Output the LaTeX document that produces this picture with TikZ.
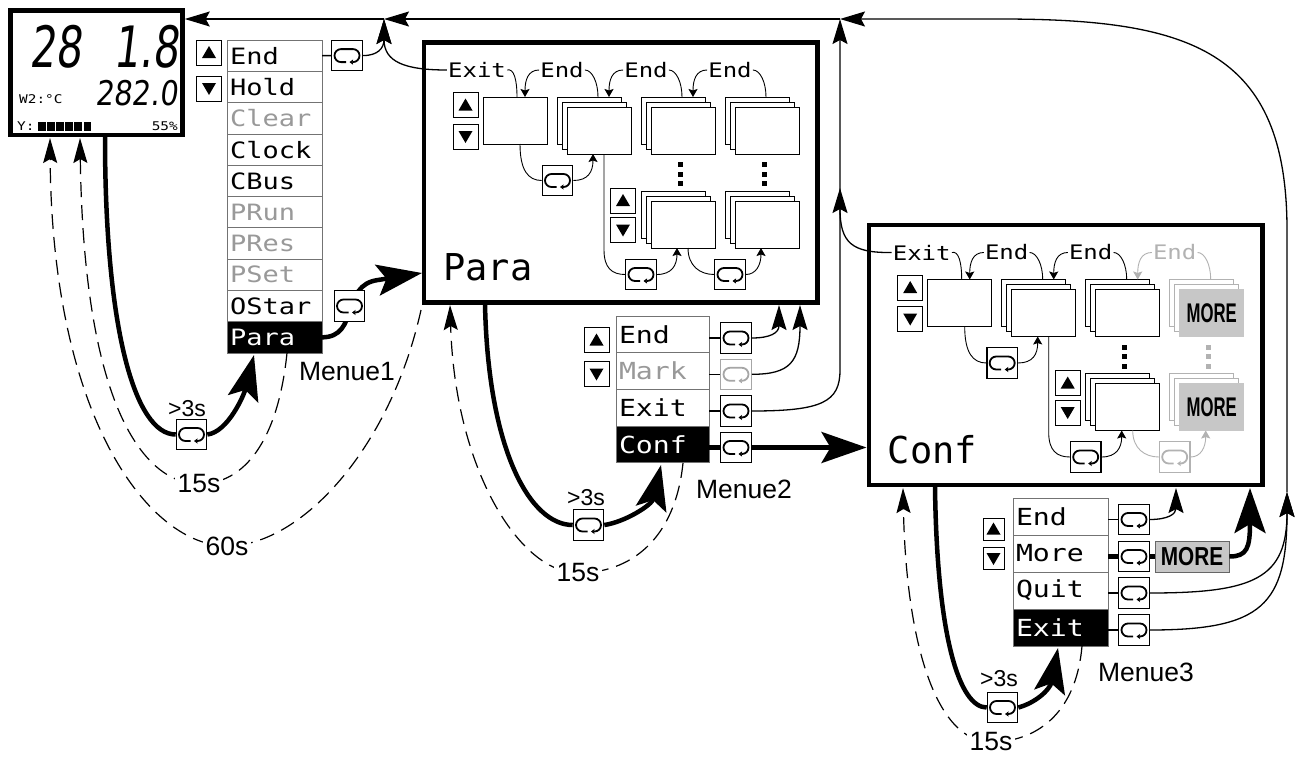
\documentclass[tikz,border=0pt]{standalone}
\usepackage{fontspec}
\setmainfont{Liberation Sans}
\usetikzlibrary{arrows.meta}
\newfontfamily\lcdf[FakeStretch=1.2]{DejaVu Sans Mono}
\newfontfamily\lcdn{DejaVu Sans Mono}
\newfontfamily\segf[FakeSlant=0.12,FakeStretch=0.72]{DejaVu Sans}
\newfontfamily\segg[FakeSlant=0.12,FakeStretch=0.85]{DejaVu Sans}
\newfontfamily\moreA[FakeStretch=0.62]{Liberation Sans}
\newfontfamily\moreB[FakeStretch=0.8]{Liberation Sans}

\newcommand\stk[6]{%
 \node[scr,#4] (#1b) at (#2-10,#3-10) {};
 \node[scr,#4] (#1m) at (#2-5,#3-5) {};
 \node[scr,#5] (#1) at (#2,#3) {#6};}

\newcommand\innerlay[7]{%
\begin{scope}[shift={(#1,#2)}]
 \node[inl] (#3exit) at (477,70) {Exit};
 \node[inl] (#3endA) at (562,70) {End};
 \node[inl] (#3endB) at (646,70) {End};
 \node[inl,text=#5] (#3endC) at (730,70) {End};
 \node[upbtn] (#3up) at (465.5,105) {};
 \node[dnbtn] (#3dn) at (465.5,136.5) {};
 \node[scr] (#3s1) at (483,97) {};
 \stk{#3sB}{567}{107}{}{}{}
 \stk{#3sC}{651}{107}{}{}{}
 \stk{#3sCr}{651}{201}{}{}{}
 \stk{#3sD}{735}{107}{draw=#5}{#6}{#7}
 \stk{#3sDr}{735}{201}{draw=#5}{#6}{#7}
 \node[upbtn] (#3upB) at (623,200.5) {};
 \node[dnbtn] (#3dnB) at (623,230) {};
 \foreach \yy in {162,171.5,181} {\fill (677.5,\yy) rectangle ++(5,5); \fill[#5] (761.5,\yy) rectangle ++(5,5);}
 \node[loopbox] (#3ia) at (557.5,180.5) {};
 \node[loopbox] (#3ib) at (641,274.5) {};
 \node[loopbox=#5] (#3ic) at (730,274.5) {};
 \node[ttl] (#3title) at (443,267) {#4};
 \draw[inline] (#3exit.east) .. controls (514,68) and (517,80) .. (517,97);
 \draw[inarrow] (#3endA.west) .. controls (528,70) and (525,80) .. (525,97);
 \draw[inline] (#3endA.east) .. controls (592,70) and (598,82) .. (598,97);
 \draw[inarrow] (#3endB.west) .. controls (612,70) and (609,80) .. (609,97);
 \draw[inline] (#3endB.east) .. controls (676,70) and (682,82) .. (682,97);
 \draw[inarrow,#5] (#3endC.west) .. controls (696,70) and (693,80) .. (693,97);
 \draw[inline,#5] (#3endC.east) .. controls (760,70) and (766,82) .. (766,97);
 \draw[inline] (520,144) .. controls (520,170) and (528,180.5) .. (#3ia.west);
 \draw[inarrow] (#3ia.east) .. controls (588,180.5) and (593,172) .. (593,154);
 \draw[inline] (604,154) -- (604,250) .. controls (604,268) and (612,274.5) .. (#3ib.west);
 \draw[inarrow] (#3ib.east) .. controls (672,274.5) and (677,265) .. (677,248);
 \draw[inline,#5] (688,248) .. controls (688,266) and (700,274.5) .. (#3ic.west);
 \draw[inarrow,#5] (#3ic.east) .. controls (756,274.5) and (761,265) .. (761,248);
\end{scope}}

\begin{document}
\begin{tikzpicture}[x=1pt,y=-1pt,
 item1/.style={draw=black!55, line width=0.8pt, minimum width=95pt, minimum height=31.3pt, text width=89pt, inner xsep=3pt, inner ysep=0pt, align=left, anchor=north west, outer sep=0pt, font=\lcdf\fontsize{22.5}{22.5}\selectfont},
 item2/.style={item1, minimum width=93pt, text width=87pt, minimum height=36.7pt, font=\lcdf\fontsize{23.5}{23.5}\selectfont},
 item3/.style={item2, minimum width=95pt, text width=89pt, minimum height=37pt},
 hl/.style={fill=black, text=white},
 gr/.style={text=black!40},
 btn/.style={draw, line width=0.9pt, minimum width=25pt, minimum height=25pt, inner sep=0pt, fill=white},
 upbtn/.style={btn, path picture={\fill[black] ([xshift=-7pt,yshift=-5.5pt]path picture bounding box.center) -- ++(14,0) -- ++(-7,-12) -- cycle;}},
 dnbtn/.style={btn, path picture={\fill[black] ([xshift=-7pt,yshift=5.5pt]path picture bounding box.center) -- ++(14,0) -- ++(-7,12) -- cycle;}},
 loopbox/.style={draw=#1, line width=1.1pt, minimum size=30.5pt, inner sep=0pt, fill=white, path picture={\draw[#1, line width=1.8pt, shift={(path picture bounding box.center)}, x=1pt, y=1pt, -{Stealth[length=3.5pt,width=5pt,inset=0.5pt]}] (-1,-6.5) -- (-6,-6.5) arc[start angle=270, end angle=90, radius=6.5] -- (6,6.5) arc[start angle=90,end angle=-90,radius=6.5] -- (2.5,-6.5);}},
 loopbox/.default=black,
 scr/.style={draw=black, line width=0.9pt, fill=white, minimum width=64pt, minimum height=47pt, anchor=north west, inner sep=0pt, outer sep=0pt},
 inl/.style={font=\lcdf\fontsize{20}{20}\selectfont, inner sep=1pt},
 ttl/.style={font=\lcdn\fontsize{37}{37}\selectfont, anchor=west, inner sep=0pt},
 bigbox/.style={draw, line width=4.5pt, minimum width=393.5pt, minimum height=260pt, inner sep=0pt},
 lbl/.style={font=\fontsize{26.5}{26.5}\selectfont, inner sep=1pt},
 lblw/.style={lbl, fill=white, inner sep=3pt},
 lblsmall/.style={font=\fontsize{23}{23}\selectfont, inner sep=0pt},
 inline/.style={line width=0.9pt},
 inarrow/.style={inline, -{Stealth[length=8pt,width=9pt,inset=1.5pt]}},
 thinline/.style={line width=1.3pt},
 thinarrow/.style={thinline, -{Stealth[length=25pt,width=15pt,inset=4pt]}},
 thickline/.style={line width=4.5pt},
 bigarrow/.style={thickline, -{Stealth[length=45pt,width=31pt,inset=9pt]}},
 dasharrow/.style={line width=1.2pt, dash pattern=on 15pt off 8pt, -{Stealth[length=25pt,width=14pt,inset=4pt]}},
]
\useasboundingbox (0,0) rectangle (1304,758);
\fill[white] (0,0) rectangle (1304,758);

% named points
\coordinate (tA) at (384,19);
\coordinate (tB) at (840,19);
\coordinate (tR) at (1287,492);
\coordinate (jC) at (840,188);
\coordinate (dA) at (105,137);
\coordinate (dB) at (80,138);
\coordinate (dC) at (50,138);
\coordinate (pA) at (485,304);
\coordinate (pB) at (450,305);
\coordinate (pC) at (421,310);
\coordinate (pW) at (422,273);
\coordinate (cA) at (935,487);
\coordinate (cB) at (903,488);
\coordinate (cW) at (866.5,447.5);
\coordinate (m1bot) at (287,353);
\coordinate (m2bot) at (683,463);
\coordinate (m3bot) at (1082,646);
\coordinate (m1tip) at (254,355);
\coordinate (m2tip) at (661,465);
\coordinate (m3tip) at (1058,648);
\coordinate (m2tA) at (779,305);
\coordinate (m2tB) at (800,305);
\coordinate (m3tA) at (1176,488);
\coordinate (m3tB) at (1250,488);

% display
\node[draw, line width=4.5pt, minimum width=172.2pt, minimum height=124.7pt, inner sep=0pt] (disp) at (96.4,72.65) {};
\node[font=\segf\fontsize{57}{57}\selectfont, anchor=base east, inner sep=0pt] (dbig) at (179,67) {28\,\, 1.8};
\node[font=\segg\fontsize{34}{34}\selectfont, anchor=base east, inner sep=0pt] (dsmall) at (178,105) {282.0};
\node[font=\lcdf\fontsize{12}{12}\selectfont, anchor=base west, inner sep=0pt] (dw) at (19,103) {W2:°C};
\node[font=\lcdf\fontsize{12}{12}\selectfont, anchor=base west, inner sep=0pt] (dy) at (17,130.5) {Y:};
\node[font=\lcdf\fontsize{12}{12}\selectfont, anchor=base east, inner sep=0pt] (dp) at (178,130.5) {55\%};
\foreach \i in {0,...,5} \fill (38+\i*9.1,122) rectangle ++(7.6,9);

% big boxes
\node[bigbox] (pbox) at (620.75,172.5) {};
\node[bigbox] (cbox) at (1065.6,354.75) {};
\innerlay{0}{0}{p}{Para}{black}{}{}
\innerlay{444.7}{182.5}{c}{Conf}{black!30}{fill=black!22,draw=black!22,font=\moreA\bfseries\fontsize{27}{27}\selectfont}{MORE}

% top line
\draw[thinarrow] (tA) -- (disp.east |- tA);
\draw[thinarrow] (tB) -- (tA);
\draw[thinarrow] (tR) -- (1287,230) .. controls (1287,50) and (1190,19) .. (1000,19) -- (tB);

% menu 1
\node[upbtn] (m1up) at (209,52.5) {};
\node[dnbtn] (m1dn) at (209,88.5) {};
\node[item1] (m1a) at (227,40) {End};
\node[item1] (m1b) at (227,71.3) {Hold};
\node[item1,gr] (m1c) at (227,102.6) {Clear};
\node[item1] (m1d) at (227,133.9) {Clock};
\node[item1] (m1e) at (227,165.2) {CBus};
\node[item1,gr] (m1f) at (227,196.5) {PRun};
\node[item1,gr] (m1g) at (227,227.8) {PRes};
\node[item1,gr] (m1h) at (227,259.1) {PSet};
\node[item1] (m1i) at (227,290.4) {OStar};
\node[item1,hl] (m1j) at (227,321.7) {Para};
\draw[bigarrow] (m1j.east) .. controls (360,337) and (340,285) .. (378,280) -- (pW);
\node[loopbox] (m1ia) at (347,55.6) {};
\node[loopbox] (m1ib) at (349.5,306) {};
\draw[thinline] (m1a.east) -- (m1ia.west);
\draw[thinarrow] (m1ia.east) .. controls (378,55.6) and (384,48) .. (tA);
\draw[thinarrow] (pexit.west) .. controls (405,70) and (384,62) .. (tA);

\node[loopbox] (m1ic) at (191.5,434.5) {};
\draw[thickline] (dA) .. controls (105,330) and (135,434.5) .. (m1ic.west);
\draw[bigarrow] (m1ic.east) .. controls (228,432) and (244,395) .. (m1tip);
\node[lblsmall] (m1t3) at (187,409) {>3s};
\draw[dasharrow] (m1bot) .. controls (278,440) and (245,484) .. (199,484) .. controls (150,484) and (84,420) .. (dB);
\node[lblw] (m1l15) at (199,484) {15s};
\draw[dasharrow] (pC) .. controls (390,450) and (300,546) .. (227,546) .. controls (150,546) and (52,420) .. (dC);
\node[lblw] (m1l60) at (227,546) {60s};
\node[lbl] (m1name) at (347,372) {Menue1};

% menu 2
\node[upbtn] (m2up) at (596.5,340) {};
\node[dnbtn] (m2dn) at (596.5,374) {};
\node[item2] (m2a) at (616,316) {End};
\node[item2,gr] (m2b) at (616,352.7) {Mark};
\node[item2] (m2c) at (616,389.4) {Exit};
\node[item2,hl] (m2d) at (616,426.1) {Conf};
\node[loopbox] (m2ia) at (736,338) {};
\node[loopbox=black!35] (m2ib) at (736,374.3) {};
\node[loopbox] (m2ic) at (736,411) {};
\node[loopbox] (m2id) at (736,447.5) {};
\draw[thinline] (m2a.east |- m2ia) -- (m2ia.west);
\draw[thinline] (m2b.east |- m2ib) -- (m2ib.west);
\draw[thinline] (m2c.east |- m2ic) -- (m2ic.west);
\draw[thickline] (m2d.east |- m2id) -- (m2id.west);
\draw[bigarrow] (m2id.east) -- (cW);
\draw[thinarrow] (m2ia.east) .. controls (770,338) and (779,333) .. (m2tA);
\draw[thinarrow] (m2ib.east) .. controls (790,374.3) and (800,362) .. (m2tB);
\draw[thinarrow] (m2ic.east) .. controls (822,411) and (840,402) .. (840,370) -- (tB);
\draw[thinarrow] (cexit.west) .. controls (852,253) and (840,243) .. (jC);

\node[loopbox] (m2ie) at (588.5,525) {};
\draw[thickline] (pA) .. controls (488,450) and (530,525) .. (m2ie.west);
\draw[bigarrow] (m2ie.east) .. controls (625,522) and (652,505) .. (m2tip);
\node[lblsmall] (m2t3) at (586,498) {>3s};
\draw[dasharrow] (m2bot) .. controls (675,540) and (630,573) .. (578,573) .. controls (520,573) and (455,470) .. (pB);
\node[lblw] (m2l15) at (578,573) {15s};
\node[lbl] (m2name) at (744,489) {Menue2};

% menu 3
\node[upbtn, minimum width=21pt, minimum height=22pt] (m3up) at (993.5,529) {};
\node[dnbtn, minimum width=21pt, minimum height=22pt] (m3dn) at (993.5,558.5) {};
\node[item3] (m3a) at (1013,498) {End};
\node[item3] (m3b) at (1013,535) {More};
\node[item3] (m3c) at (1013,572) {Quit};
\node[item3,hl] (m3d) at (1013,609) {Exit};
\node[loopbox] (m3ia) at (1134,519.5) {};
\node[loopbox] (m3ib) at (1134,556.5) {};
\node[loopbox] (m3ic) at (1134,593) {};
\node[loopbox] (m3id) at (1134,630) {};
\node[draw=black!60, fill=black!22, line width=0.9pt, minimum width=74pt, minimum height=31pt, inner sep=0pt, font=\moreB\bfseries\fontsize{26}{26}\selectfont] (m3more) at (1192,556.5) {MORE};
\draw[thinline] (m3a.east |- m3ia) -- (m3ia.west);
\draw[thickline] (m3b.east |- m3ib) -- (m3ib.west);
\draw[thickline] (m3ib.east) -- (m3more.west);
\draw[thinline] (m3c.east |- m3ic) -- (m3ic.west);
\draw[thinline] (m3d.east |- m3id) -- (m3id.west);
\draw[thinarrow] (m3ia.east) .. controls (1168,519.5) and (1176,514) .. (m3tA);
\draw[bigarrow] (m3more.east) .. controls (1247,556.5) and (1250,548) .. (m3tB);
\draw[thinarrow] (m3ic.east) .. controls (1255,593) and (1287,578) .. (tR);
\draw[thinarrow] (m3id.east) .. controls (1262,630) and (1287,605) .. (tR);

\node[loopbox] (m3ie) at (1002.5,707.5) {};
\draw[thickline] (cA) .. controls (937,640) and (960,707.5) .. (m3ie.west);
\draw[bigarrow] (m3ie.east) .. controls (1035,703) and (1050,690) .. (m3tip);
\node[lblsmall] (m3t3) at (999,679) {>3s};
\draw[dasharrow] (m3bot) .. controls (1076,715) and (1035,742) .. (991,742) .. controls (935,742) and (906,640) .. (cB);
\node[lblw] (m3l15) at (991,742) {15s};
\node[lbl] (m3name) at (1146,672) {Menue3};
\end{tikzpicture}
\end{document}
